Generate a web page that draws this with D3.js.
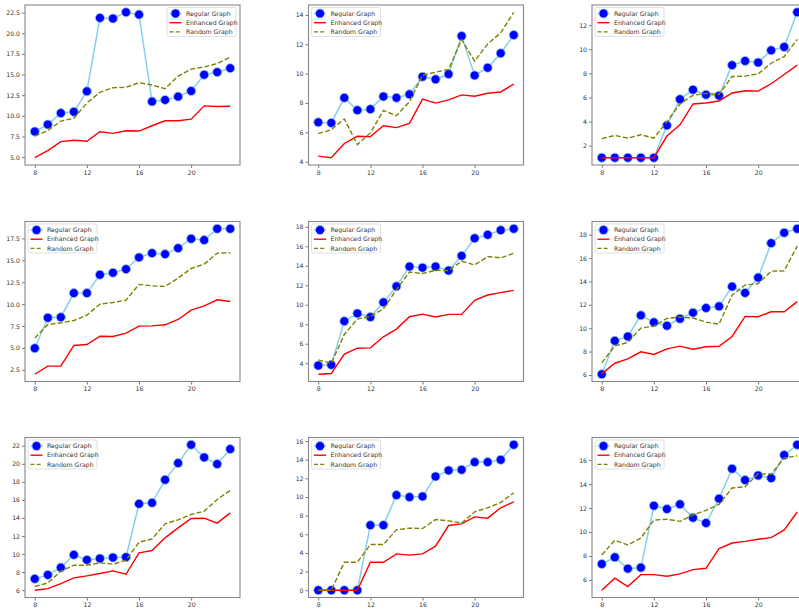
<!DOCTYPE html>
<html>
<head>
<meta charset="utf-8">
<script src="https://cdn.jsdelivr.net/npm/d3@7"></script>
<style>
  html, body { margin: 0; padding: 0; background: #fff; }
  svg { display: block; font-family: "DejaVu Sans", sans-serif; }
</style>
</head>
<body>
<svg id="chart" width="799" height="611"></svg>
<script>
'use strict';

// ─── Data ────────────────────────────────────────────────────────────────────
const xValues = [8, 9, 10, 11, 12, 13, 14, 15, 16, 17, 18, 19, 20, 21, 22, 23];
const xTicks = [8, 12, 16, 20];
const seriesNames = ['Regular Graph', 'Enhanced Graph', 'Random Graph'];

const regularSeries = [
  [8.1, 8.95, 10.33, 10.49, 12.97, 21.86, 21.78, 22.54, 22.26, 11.73, 11.93, 12.33, 13.01, 14.97, 15.29, 15.77],
  [6.68, 6.64, 8.35, 7.51, 7.58, 8.44, 8.35, 8.59, 9.79, 9.61, 9.97, 12.56, 9.88, 10.4, 11.39, 12.63],
  [1.0, 1.0, 1.0, 1.0, 1.0, 3.68, 5.85, 6.64, 6.23, 6.15, 8.68, 9.03, 8.9, 9.91, 10.19, 13.07],
  [4.97, 8.44, 8.51, 11.26, 11.26, 13.35, 13.58, 13.99, 15.33, 15.82, 15.71, 16.39, 17.46, 17.31, 18.6, 18.6],
  [3.76, 3.83, 8.32, 9.11, 8.74, 10.25, 11.89, 13.92, 13.81, 13.92, 13.51, 15.02, 16.83, 17.18, 17.66, 17.8],
  [6.06, 8.92, 9.29, 11.1, 10.5, 10.21, 10.81, 11.33, 11.73, 11.87, 13.56, 13.02, 14.33, 17.28, 18.17, 18.51],
  [7.26, 7.7, 8.51, 9.92, 9.36, 9.51, 9.62, 9.66, 15.57, 15.68, 18.23, 20.08, 22.11, 20.71, 19.97, 21.63],
  [0, 0, 0, 0, 6.98, 6.98, 10.2, 9.99, 10.06, 12.2, 12.85, 12.92, 13.74, 13.74, 13.99, 15.6],
  [7.33, 7.89, 6.94, 7.03, 12.19, 11.92, 12.31, 11.19, 10.75, 12.78, 15.28, 14.33, 14.72, 14.5, 16.42, 17.28],
];

const enhancedSeries = [
  [4.93, 5.8, 6.88, 7.04, 6.92, 8.08, 7.88, 8.2, 8.16, 8.8, 9.41, 9.41, 9.6, 11.21, 11.13, 11.17],
  [4.38, 4.27, 5.24, 5.73, 5.71, 6.45, 6.32, 6.61, 8.26, 7.99, 8.21, 8.55, 8.46, 8.66, 8.75, 9.29],
  [1.0, 1.0, 1.0, 1.0, 1.0, 2.8, 3.73, 5.46, 5.54, 5.71, 6.37, 6.56, 6.53, 7.14, 7.91, 8.68],
  [2.0, 2.92, 2.92, 5.28, 5.39, 6.34, 6.31, 6.69, 7.49, 7.52, 7.64, 8.25, 9.31, 9.81, 10.49, 10.3],
  [2.87, 2.94, 4.93, 5.54, 5.58, 6.71, 7.5, 8.77, 9.04, 8.74, 9.01, 9.01, 10.45, 11.0, 11.24, 11.48],
  [6.09, 7.0, 7.37, 7.98, 7.75, 8.23, 8.46, 8.2, 8.41, 8.46, 9.29, 11.01, 10.98, 11.41, 11.41, 12.27],
  [6.0, 6.18, 6.74, 7.37, 7.59, 7.85, 8.14, 7.77, 10.14, 10.4, 11.8, 12.91, 13.95, 13.98, 13.43, 14.57],
  [0, 0, 0, 0, 3.0, 3.0, 3.9, 3.76, 3.9, 4.72, 6.94, 7.12, 7.87, 7.73, 8.84, 9.48],
  [5.14, 6.14, 5.44, 6.44, 6.44, 6.31, 6.5, 6.86, 6.97, 8.61, 9.08, 9.22, 9.39, 9.53, 10.17, 11.67],
];

const randomSeries = [
  [7.56, 8.2, 9.37, 9.69, 11.57, 12.85, 13.41, 13.45, 14.01, 13.73, 13.29, 14.81, 15.65, 15.93, 16.33, 17.13],
  [5.91, 6.18, 6.91, 5.17, 5.96, 7.49, 7.13, 8.1, 9.88, 10.1, 10.28, 12.31, 10.85, 12.02, 12.78, 14.18],
  [2.58, 2.85, 2.63, 2.91, 2.63, 3.98, 5.46, 6.18, 6.34, 6.26, 7.74, 7.77, 7.96, 8.84, 9.39, 10.82],
  [6.12, 7.68, 7.87, 8.13, 8.74, 10.0, 10.19, 10.46, 12.25, 12.09, 12.02, 12.97, 14.07, 14.57, 15.82, 15.86],
  [4.34, 4.0, 6.95, 8.53, 8.8, 9.59, 11.55, 13.37, 13.2, 13.54, 13.51, 14.47, 14.09, 14.95, 14.81, 15.29],
  [7.03, 8.49, 8.78, 10.01, 10.18, 10.84, 10.95, 10.87, 10.52, 10.35, 12.82, 13.7, 13.82, 14.88, 14.91, 17.03],
  [6.41, 6.81, 8.11, 8.77, 8.77, 9.03, 8.88, 9.33, 11.32, 11.69, 13.35, 13.8, 14.39, 14.76, 16.05, 17.05],
  [0, 0, 3.0, 3.0, 4.9, 4.9, 6.48, 6.66, 6.62, 7.59, 7.44, 7.19, 8.41, 8.84, 9.41, 10.45],
  [8.08, 9.31, 8.92, 9.5, 11.0, 11.06, 10.89, 11.42, 11.81, 12.31, 13.67, 13.78, 14.86, 14.83, 16.19, 16.36],
];

const yTicks = [
  [5, 7.5, 10, 12.5, 15, 17.5, 20, 22.5],
  [4, 6, 8, 10, 12, 14],
  [2, 4, 6, 8, 10, 12],
  [2.5, 5, 7.5, 10, 12.5, 15, 17.5],
  [4, 6, 8, 10, 12, 14, 16, 18],
  [6, 8, 10, 12, 14, 16, 18],
  [6, 8, 10, 12, 14, 16, 18, 20, 22],
  [0, 2, 4, 6, 8, 10, 12, 14, 16],
  [6, 8, 10, 12, 14, 16],
];
const yTickFormats = ['.1f', 'd', 'd', '.1f', 'd', 'd', 'd', 'd', 'd'];
const legendCorner = ['right', 'left', 'left', 'left', 'left', 'left', 'left', 'left', 'left'];

// ─── Layout ──────────────────────────────────────────────────────────────────
const COL_X = [25, 308.5, 592];
const ROW_Y = [5, 221.5, 437.5];
const AX_W = 215;
const AX_H = 160;

const COLORS = { regular: '#87ceeb', marker: '#0000ff', enhanced: '#ff0000', random: '#808000' };
const FONT = 6.2;

const svg = d3.select('#chart');

function padded([lo, hi]) {
  const m = (hi - lo) * 0.05;
  return [lo - m, hi + m];
}

function drawPanel(i) {
  const ox = COL_X[i % 3];
  const oy = ROW_Y[Math.floor(i / 3)];
  const g = svg.append('g').attr('transform', `translate(${ox},${oy})`);

  const reg = regularSeries[i], enh = enhancedSeries[i], rnd = randomSeries[i];
  const x = d3.scaleLinear().domain(padded(d3.extent(xValues))).range([0, AX_W]);
  const y = d3.scaleLinear().domain(padded(d3.extent([...reg, ...enh, ...rnd]))).range([AX_H, 0]);

  // ── Axes ────────────────────────────────────────────────────────────────
  const fmt = d3.format(yTickFormats[i]);
  const xAxis = g.append('g').attr('transform', `translate(0,${AX_H})`)
    .call(d3.axisBottom(x).tickValues(xTicks).tickSize(3).tickPadding(2.5).tickFormat(d3.format('d')));
  const yAxis = g.append('g')
    .call(d3.axisLeft(y).tickValues(yTicks[i]).tickSize(3).tickPadding(2).tickFormat(fmt));
  [xAxis, yAxis].forEach(a => {
    a.select('.domain').remove();
    a.selectAll('line').attr('stroke', '#555').attr('stroke-width', 0.8);
    a.selectAll('text').attr('fill', '#333').attr('font-size', FONT).attr('font-family', '"DejaVu Sans", sans-serif');
  });

  // ── Lines ───────────────────────────────────────────────────────────────
  const line = d3.line().x((d, k) => x(xValues[k])).y(d => y(d));

  g.append('path').datum(reg).attr('d', line)
    .attr('fill', 'none').attr('stroke', COLORS.regular).attr('stroke-width', 1.5);
  g.selectAll('circle.pt').data(reg).join('circle')
    .attr('class', 'pt')
    .attr('cx', (d, k) => x(xValues[k])).attr('cy', d => y(d)).attr('r', 4.5)
    .attr('fill', COLORS.marker).attr('stroke', COLORS.regular).attr('stroke-width', 0.8);

  g.append('path').datum(enh).attr('d', line)
    .attr('fill', 'none').attr('stroke', COLORS.enhanced).attr('stroke-width', 1.4);

  g.append('path').datum(rnd).attr('d', line)
    .attr('fill', 'none').attr('stroke', COLORS.random).attr('stroke-width', 1.4)
    .attr('stroke-dasharray', '5,2.2');

  // ── Frame ───────────────────────────────────────────────────────────────
  g.append('rect').attr('width', AX_W).attr('height', AX_H)
    .attr('fill', 'none').attr('stroke', '#888').attr('stroke-width', 1.1);

  // ── Legend ──────────────────────────────────────────────────────────────
  const LW = 69, LH = 29;
  const lx = legendCorner[i] === 'right' ? AX_W - LW - 4 : 3;
  const lg = g.append('g').attr('transform', `translate(${lx},2.5)`);
  lg.append('rect').attr('width', LW).attr('height', LH).attr('rx', 2)
    .attr('fill', 'rgba(255,255,255,0.8)').attr('stroke', '#d8d8d8').attr('stroke-width', 0.8);

  seriesNames.forEach((name, k) => {
    const ry = 6 + k * 9.2;
    const h = lg.append('line').attr('x1', 2.5).attr('x2', 14.5).attr('y1', ry).attr('y2', ry)
      .attr('stroke-width', 1.4);
    if (k === 0) {
      h.attr('stroke', COLORS.regular).attr('stroke-width', 1.5);
      lg.append('circle').attr('cx', 8.5).attr('cy', ry).attr('r', 4.5)
        .attr('fill', COLORS.marker).attr('stroke', COLORS.regular).attr('stroke-width', 0.8);
    } else if (k === 1) {
      h.attr('stroke', COLORS.enhanced);
    } else {
      h.attr('stroke', COLORS.random).attr('stroke-dasharray', '4,2.2');
    }
    lg.append('text').attr('x', 19).attr('y', ry).attr('dy', '0.35em')
      .attr('font-size', FONT).attr('fill', '#333').text(name);
  });
}

d3.range(9).forEach(drawPanel);
</script>
</body>
</html>
